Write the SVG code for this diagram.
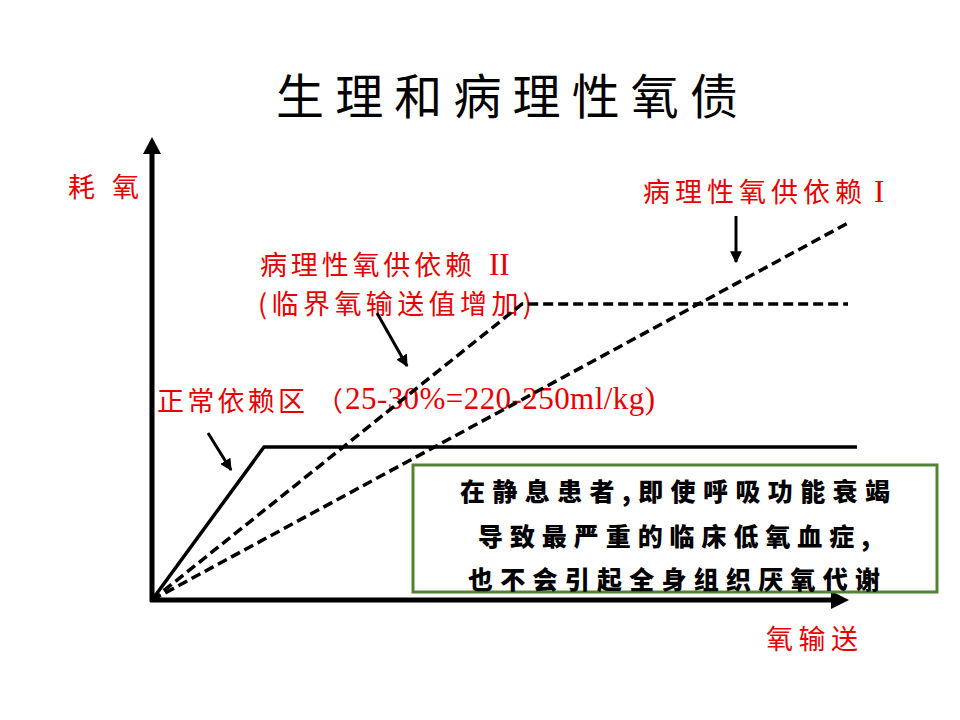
<svg xmlns="http://www.w3.org/2000/svg" width="960" height="720" viewBox="0 0 960 720">
<style>
.red{fill:#e60000;font-family:"Noto Sans CJK SC",sans-serif;font-size:27px}
.lat{fill:#e60000;font-family:"Liberation Serif",serif;font-size:31px}
.box{fill:#000;font-family:"Noto Sans CJK SC",sans-serif;font-size:25px;font-weight:900}
.title{fill:#000;font-family:"Noto Sans CJK SC",sans-serif;font-size:48px}
.dash{fill:none;stroke:#000;stroke-width:3.5;stroke-dasharray:10,5}
.solid{fill:none;stroke:#000;stroke-width:3.5}
.axis{fill:none;stroke:#000;stroke-width:5}
.ptr{fill:none;stroke:#000;stroke-width:3}
</style>
<defs>
<marker id="ah" viewBox="0 0 10 10" refX="9" refY="5" markerWidth="4" markerHeight="4" orient="auto" markerUnits="strokeWidth">
<path d="M0,0 L10,5 L0,10 z" fill="#000"/>
</marker>
</defs>
<rect width="960" height="720" fill="#fff"/>
<g id="title"><text class="title" x="276" y="114" textLength="462" lengthAdjust="spacing">生理和病理性氧债</text></g>
<g id="axes">
<path class="axis" d="M152,602 L152,152"/>
<path d="M143,154 L152,137 L161,154 z" fill="#000"/>
<path class="axis" d="M150,600 L833,600"/>
<path d="M831,591 L849,600 L831,609 z" fill="#000"/>
</g>
<g id="labels">
<text class="red" x="68" y="197">耗</text>
<text class="red" x="112" y="197">氧</text>
<text class="red" x="766" y="649" textLength="92" lengthAdjust="spacing">氧输送</text>
<text class="red" x="643" y="202" textLength="219" lengthAdjust="spacing">病理性氧供依赖</text>
<text class="lat" x="874" y="202">I</text>
<text class="red" x="260" y="275" textLength="212" lengthAdjust="spacing">病理性氧供依赖</text>
<text class="lat" x="489" y="275">II</text>
<text class="red" x="258" y="314" textLength="274" lengthAdjust="spacing">(临界氧输送值增加)</text>
<text class="red" x="157" y="411" textLength="148" lengthAdjust="spacing">正常依赖区</text>
<text class="red" x="316" y="411">（</text>
<text class="lat" x="345" y="409" textLength="310" lengthAdjust="spacing">25-30%=220-250ml/kg)</text>
</g>
<g id="connectors">
<path class="solid" d="M152,600 L264,447 L857,447"/>
<path class="dash" d="M152,600 L522,304 L848,304"/>
<path class="dash" d="M152,600 L848,223"/>
<path class="ptr" d="M736,216 L736,262" marker-end="url(#ah)"/>
<path class="ptr" d="M377,313 L407,366" marker-end="url(#ah)"/>
<path class="ptr" d="M208,433 L231,470" marker-end="url(#ah)"/>
</g>
<g id="note">
<rect x="413" y="465" width="524" height="127" fill="#fff" stroke="#548235" stroke-width="3"/>
<text class="box" x="460" y="501" textLength="430" lengthAdjust="spacing">在静息患者,即使呼吸功能衰竭</text>
<text class="box" x="478" y="546" textLength="392" lengthAdjust="spacing">导致最严重的临床低氧血症,</text>
<text class="box" x="468" y="589" textLength="412" lengthAdjust="spacing">也不会引起全身组织厌氧代谢</text>
</g>
</svg>
